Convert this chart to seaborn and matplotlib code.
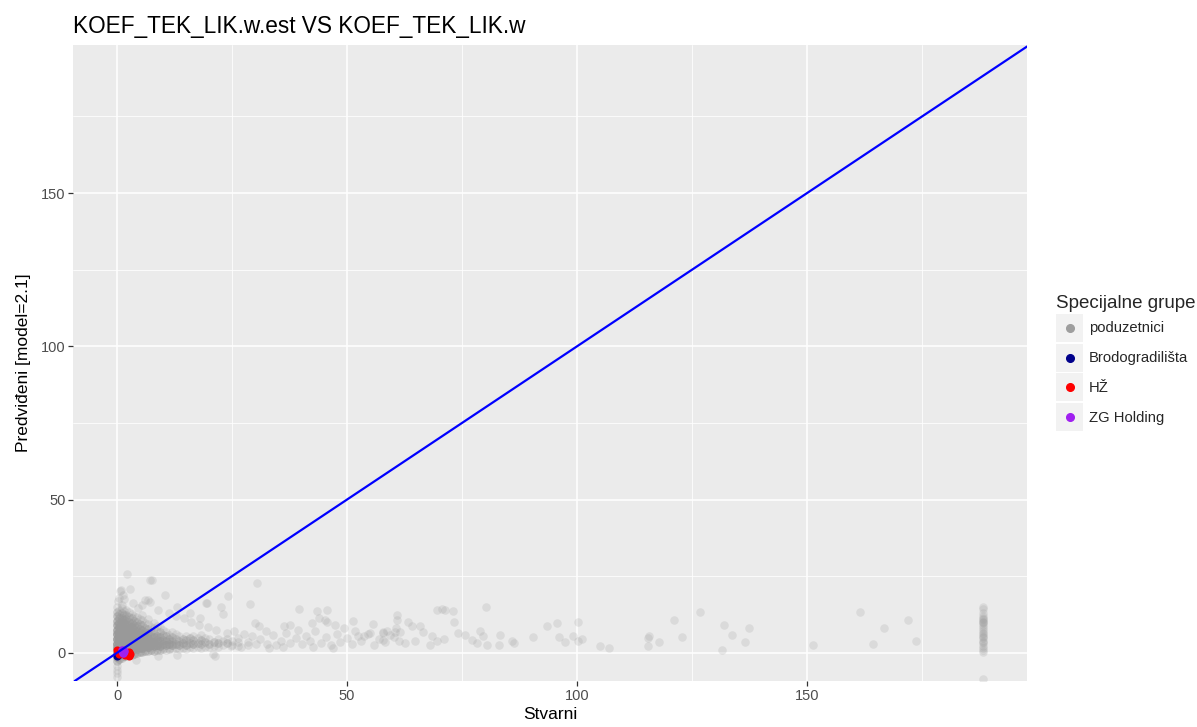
import numpy as np
import pandas as pd
import matplotlib
matplotlib.use("Agg")
import matplotlib.pyplot as plt
import seaborn as sns
from matplotlib.lines import Line2D
from matplotlib.patches import Rectangle
from matplotlib.legend_handler import HandlerBase
from matplotlib.ticker import MultipleLocator

# ---------------- data ----------------
title = "KOEF_TEK_LIK.w.est VS KOEF_TEK_LIK.w"
x_label = "Stvarni"
y_label = "Predviđeni [model=2.1]"
legend_title = "Specijalne grupe"
groups = ["poduzetnici", "Brodogradilišta", "HŽ", "ZG Holding"]
group_colors = ["#9e9e9e", "#00008B", "#FF0000", "#A020F0"]
ticks = [0, 50, 100, 150]

# dense core of 'poduzetnici': column x, y positions and number of overlapping firms
core_col_x = [0.1, 1.0, 2.0, 3.2, 4.3, 5.5, 6.7, 8.0, 9.3, 10.6, 12.0, 13.5, 15.0, 16.6, 18.3, 20.0, 22.0, 24.0, 26.2, 28.5]
core_col_y = [
    [-4.2, -2.8, -1.4, 0.0, 1.5, 3.0, 4.5, 6.0, 7.5, 9.0, 10.5, 12.0, 13.4, 14.8],
    [-1.8, -0.5, 1.0, 2.5, 4.0, 5.5, 7.0, 8.5, 10.0, 11.5, 13.0, 14.6],
    [-1.0, 0.4, 1.9, 3.4, 4.9, 6.4, 7.9, 9.4, 10.9, 12.4, 14.0],
    [-0.6, 0.8, 2.3, 3.8, 5.3, 6.8, 8.3, 9.8, 11.3, 12.8],
    [-0.2, 1.2, 2.7, 4.2, 5.7, 7.2, 8.7, 10.2, 11.8],
    [0.3, 1.6, 3.1, 4.6, 6.1, 7.6, 9.1, 10.6, 12.3],
    [0.5, 1.9, 3.4, 4.9, 6.4, 7.9, 9.4, 11.0],
    [0.7, 2.1, 3.6, 5.1, 6.6, 8.1, 9.7],
    [0.9, 2.3, 3.8, 5.3, 6.8, 8.3],
    [1.0, 2.4, 3.9, 5.4, 6.9],
    [1.2, 2.5, 3.9, 5.3, 6.8],
    [1.3, 2.6, 4.0, 5.4],
    [1.4, 2.7, 4.1, 5.6],
    [1.5, 2.8, 4.2, 5.6],
    [1.7, 2.9, 4.3, 5.8],
    [1.8, 3.0, 4.4],
    [2.0, 3.1, 4.5],
    [3.2, 4.6],
    [2.3, 3.4, 4.8],
    [2.5, 3.6],
]
core_col_n = [
    [1, 3, 6, 10, 10, 10, 9, 8, 6, 5, 4, 3, 2, 1],
    [2, 6, 10, 10, 10, 8, 7, 5, 4, 3, 2, 1],
    [2, 7, 10, 9, 8, 6, 5, 4, 3, 2, 1],
    [2, 6, 9, 8, 6, 5, 4, 3, 2, 1],
    [2, 6, 8, 7, 5, 4, 3, 2, 1],
    [2, 6, 7, 6, 4, 3, 2, 1, 1],
    [2, 6, 6, 5, 3, 2, 1, 1],
    [2, 5, 5, 4, 2, 1, 1],
    [2, 5, 4, 3, 2, 1],
    [1, 4, 3, 2, 1],
    [1, 4, 3, 2, 1],
    [1, 3, 2, 1],
    [1, 3, 2, 1],
    [1, 3, 2, 1],
    [1, 2, 2, 1],
    [1, 2, 1],
    [1, 2, 1],
    [2, 1],
    [1, 1, 1],
    [1, 1],
]
# second, staggered layer of the dense core
core2_col_x = [0.5, 1.5, 2.6, 3.7, 4.9, 6.1, 7.3, 8.6, 10.0, 11.3, 12.8, 14.3, 15.8, 17.5, 19.2, 21.0, 23.0, 25.1]
core2_col_y = [
    [-2.1, -0.7, 0.8, 2.3, 3.8, 5.3, 6.8, 8.3, 9.8, 11.3, 12.7, 14.1],
    [-1.1, 0.3, 1.8, 3.3, 4.8, 6.3, 7.8, 9.3, 10.8, 12.2, 13.8],
    [-0.7, 1.2, 2.7, 4.2, 5.7, 7.2, 8.7, 10.2, 11.7, 13.2],
    [-0.3, 1.5, 3.0, 4.5, 6.0, 7.5, 9.0, 10.5, 12.0],
    [0.4, 1.9, 3.4, 4.9, 6.4, 7.9, 9.4, 10.9],
    [0.6, 2.2, 3.7, 5.2, 6.7, 8.2, 9.8],
    [0.8, 2.4, 3.9, 5.4, 6.9, 8.4],
    [1.0, 2.6, 4.1, 5.6, 7.1, 8.8],
    [1.2, 2.8, 4.3, 5.8, 7.3],
    [1.4, 2.9, 4.4, 5.9],
    [1.5, 3.0, 4.5, 6.0],
    [1.6, 3.1, 4.6],
    [1.8, 3.2, 4.7],
    [1.9, 3.3, 4.8],
    [2.0, 3.4, 4.9],
    [2.2, 3.5],
    [2.4, 3.7],
    [2.6, 3.9],
]
core2_col_n = [
    [3, 8, 10, 10, 10, 9, 7, 5, 4, 3, 2, 1],
    [4, 9, 10, 10, 9, 7, 6, 4, 3, 2, 1],
    [3, 8, 9, 8, 6, 5, 4, 3, 2, 1],
    [3, 7, 8, 7, 5, 4, 3, 2, 1],
    [3, 7, 7, 5, 4, 3, 2, 1],
    [3, 6, 6, 4, 3, 2, 1],
    [3, 5, 5, 3, 2, 1],
    [2, 5, 4, 3, 1, 1],
    [2, 4, 3, 2, 1],
    [2, 4, 3, 1],
    [1, 3, 2, 1],
    [1, 3, 2],
    [1, 2, 2],
    [1, 2, 1],
    [1, 2, 1],
    [1, 2],
    [1, 1],
    [1, 1],
]

# scattered 'poduzetnici'
sparse_x = [69.5, 70.6, 71.3, 73.1, 80.2, 73.3, 60.8, 60.8, 60.7, 63.3, 64.1, 65.9, 66.6, 74.2, 75.7, 77.1, 78.2, 78.8,
            79.5, 80.4, 83.1, 83.3, 85.8, 86.2, 90.4, 93.5, 95.6, 96.0, 97.4, 99.1, 100.1, 100.3, 101.0, 104.9, 107.0,
            115.4, 115.7, 115.4, 117.9, 121.1, 122.7, 126.7, 57.9, 58.6, 60.1, 61.2, 62.6, 64.8, 68.0, 69.6, 71.1,
            57.9, 61.5, 68.4,
            132.0, 133.6, 137.4, 136.5, 131.5, 151.2, 161.4, 166.7, 172.0, 164.4, 173.7,
            30.5, 24.2, 28.8, 19.3, 22.5, 23.1, 39.6, 43.4, 45.7, 44.0, 45.6, 51.2, 55.7, 21.2, 30.0, 30.9, 32.4,
            36.2, 37.6, 39.4, 42.3, 45.2, 47.4, 49.4, 51.7, 53.6, 57.8, 60.4, 55.0,
            2.2, 0.7, 7.2, 10.4, 6.8,
            0.8, 1.2, 7.5, 6.1, 7.2, 1.0, 5.4, 9.0, 13.0, 19.5, 15.9, 18.0,
            31.0, 32.5, 33.8, 34.5, 35.7, 36.8, 37.5, 38.8, 40.2, 41.0, 41.9, 43.1, 44.3, 45.5, 46.6, 47.8, 48.5,
            49.9, 51.0, 52.3, 53.1, 54.6, 55.8, 56.9, 58.3, 59.4, 30.2, 29.3, 27.5, 25.5, 23.8, 21.6, 19.8, 17.9,
            16.0, 14.5, 12.8, 11.2, 24.8, 26.9, 33.0, 36.0, 42.6, 47.0, 20.9, 13.1, 4.2, 8.8,
            0.4, 0.2, 1.6, 3.5, 4.6, 2.9, 0.0, 0.0, 0.1]
sparse_y = [14.0, 14.2, 14.0, 13.7, 14.9, 10.2, 12.4, 10.7, 8.0, 9.9, 8.6, 8.6, 6.9, 6.4, 5.9, 4.2, 3.2, 7.2,
            5.5, 2.6, 2.6, 5.9, 3.7, 3.2, 5.0, 8.6, 9.7, 5.1, 3.4, 5.5, 9.9, 3.7, 4.6, 2.3, 1.7,
            4.8, 5.5, 2.1, 3.6, 10.7, 5.1, 13.3, 6.9, 7.2, 5.0, 3.7, 3.2, 3.7, 2.6, 3.7, 4.4,
            4.2, 6.9, 5.5,
            9.1, 5.9, 8.2, 3.4, 0.8, 2.6, 13.3, 8.0, 10.7, 2.8, 4.0,
            22.7, 18.6, 16.0, 16.2, 14.9, 12.6, 14.2, 13.7, 14.0, 11.5, 10.2, 10.4, 9.4, -1.2, 9.7, 8.8, 7.2,
            8.8, 9.1, 7.5, 9.7, 10.7, 9.1, 8.0, 7.2, 5.5, 6.6, 6.9, 6.3,
            25.7, 20.2, 23.8, 18.9, 17.3,
            20.5, 18.9, 23.8, 17.3, 16.7, 15.6, 15.6, 14.0, 15.1, 16.2, 12.9, 11.3,
            4.5, 3.0, 5.8, 2.6, 4.0, 6.5, 3.3, 4.9, 2.8, 5.6, 3.9, 7.0, 3.1, 5.0, 2.5, 6.1, 3.6,
            4.7, 2.9, 5.4, 3.8, 6.0, 2.7, 4.5, 3.4, 5.8, 3.0, 5.6, 6.2, 7.1, 6.4, 7.4, 8.3, 9.1,
            10.1, 11.4, 12.0, 13.1, 2.1, 1.8, 1.5, 2.0, 1.9, 1.6, -0.3, -0.8, -2.3, -1.0,
            18.0, 16.8, 17.5, 16.2, 14.7, 20.9, -5.5, -7.8, -6.6]

# firms with an actual value at the cap (vertical column on the right)
cap_x = 188.3
cap_y = [15.0, 14.2, 13.1, 12.0, 11.4, 11.0, 10.8, 10.2, 10.0, 9.6, 9.0, 8.4, 7.8, 7.1, 6.4, 6.0, 5.6, 5.0,
         4.8, 4.0, 3.6, 3.2, 2.3, 1.5, 0.8, 0.4, -8.6]

# special groups
brod_x = [0.0, 0.2]
brod_y = [-1.2, -0.6]
hz_x = [0.0, 0.4, 1.7, 2.5, 2.9, 2.6]
hz_y = [1.0, -0.4, -0.7, -1.2, -0.5, 0.3]
zg_x = [1.0, 1.4, 1.6, 1.2]
zg_y = [0.8, 0.0, 0.6, 0.2]

# ---------------- assemble ----------------
px, py = [], []
for cols_x, cols_y, cols_n in [(core_col_x, core_col_y, core_col_n), (core2_col_x, core2_col_y, core2_col_n)]:
    for cx, ys, ns in zip(cols_x, cols_y, cols_n):
        for yv, nv in zip(ys, ns):
            px += [cx] * nv
            py += [yv] * nv
px += sparse_x + [cap_x] * len(cap_y)
py += sparse_y + cap_y
df_pod = pd.DataFrame({"Stvarni": px, "Predvideni": py})
df_brod = pd.DataFrame({"Stvarni": brod_x, "Predvideni": brod_y})
df_hz = pd.DataFrame({"Stvarni": hz_x, "Predvideni": hz_y})
df_zg = pd.DataFrame({"Stvarni": zg_x, "Predvideni": zg_y})

# ---------------- style ----------------
sns.set_theme(style="darkgrid", rc={
    "axes.facecolor": "#EBEBEB",
    "grid.color": "white",
    "axes.edgecolor": "none",
})
plt.rcParams["font.family"] = ["Liberation Sans", "DejaVu Sans"]

fig = plt.figure(figsize=(11.97, 7.27), dpi=100)
ax = fig.add_axes([73 / 1197, 1 - 681 / 727, (1027 - 73) / 1197, (681 - 45) / 727])

sns.scatterplot(data=df_pod, x="Stvarni", y="Predvideni", color="#999999", alpha=0.2,
                s=38, linewidth=0, ax=ax, legend=False, zorder=2)
sns.scatterplot(data=df_brod, x="Stvarni", y="Predvideni", color=group_colors[1],
                s=34, linewidth=0, ax=ax, legend=False, zorder=3)
sns.scatterplot(data=df_hz, x="Stvarni", y="Predvideni", color=group_colors[2],
                s=34, linewidth=0, ax=ax, legend=False, zorder=3)
sns.scatterplot(data=df_zg, x="Stvarni", y="Predvideni", color=group_colors[3],
                s=38, linewidth=0, ax=ax, legend=False, zorder=4)
ax.axline((0, 0), slope=1, color="#0000FF", lw=1.6, zorder=5)

ax.set_xlim(-9.57, 197.8)
ax.set_ylim(-9.2, 198.3)
ax.set_xticks(ticks)
ax.set_yticks(ticks)
ax.xaxis.set_minor_locator(MultipleLocator(25))
ax.yaxis.set_minor_locator(MultipleLocator(25))
ax.xaxis.set_minor_formatter(matplotlib.ticker.NullFormatter())
ax.grid(True, which="major", color="white", lw=1.1)
ax.grid(True, which="minor", color="white", lw=0.55)
ax.tick_params(which="major", length=3.5, width=0.9, color="#333333", labelcolor="#4D4D4D",
               labelsize=10.5, pad=2, bottom=True, left=True)
ax.tick_params(which="minor", length=0, bottom=False, left=False)
for s in ax.spines.values():
    s.set_visible(False)

ax.set_xlabel(x_label, fontsize=12.5, color="black", labelpad=3)
ax.set_ylabel(y_label, fontsize=12.5, color="black", labelpad=7)
ax.set_title(title, loc="left", fontsize=16.3, color="black", pad=9)


class KeyHandler(HandlerBase):
    def create_artists(self, legend, orig_handle, xdescent, ydescent, width, height, fontsize, trans):
        rect = Rectangle((-xdescent, -ydescent), width, height, facecolor="#F2F2F2",
                         edgecolor="none", transform=trans)
        dot = Line2D([width / 2 - xdescent], [height / 2 - ydescent], marker="o", markersize=5.5,
                     color=orig_handle.get_color(), linestyle="none", transform=trans)
        return [rect, dot]


handles = [Line2D([], [], color=c, marker="o", linestyle="none") for c in group_colors]
leg = fig.legend(handles, groups, title=legend_title, loc="upper left",
                 bbox_to_anchor=(1056 / 1197, 1 - 295 / 727), frameon=False,
                 fontsize=10.6, title_fontsize=13.5, handler_map={Line2D: KeyHandler()},
                 handlelength=1.85, handleheight=2.55, labelspacing=0.12, handletextpad=0.4,
                 borderaxespad=0, borderpad=0)
leg._legend_box.align = "left"

fig.savefig("out.png", dpi=100)
